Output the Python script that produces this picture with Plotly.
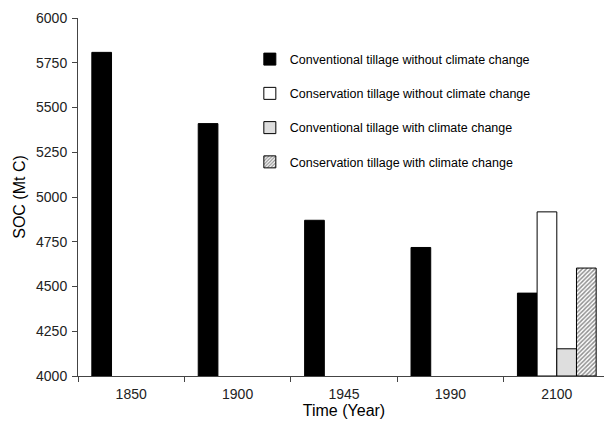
import plotly.graph_objects as go

years = ["1850", "1900", "1945", "1990", "2100"]
conv_no_cc = [5808, 5410, 4870, 4718, 4463]
cons_no_cc = [None, None, None, None, 4917]
conv_cc = [None, None, None, None, 4152]
cons_cc = [None, None, None, None, 4603]

names = [
    "Conventional tillage without climate change",
    "Conservation tillage without climate change",
    "Conventional tillage with climate change",
    "Conservation tillage with climate change",
]
series = [conv_no_cc, cons_no_cc, conv_cc, cons_cc]
fills = [
    dict(color="black"),
    dict(color="white"),
    dict(color="white", pattern=dict(shape=".", fgcolor="#666666", bgcolor="white", size=2, solidity=0.5)),
    dict(color="white", pattern=dict(shape="/", fgcolor="#222222", bgcolor="white", size=3, solidity=0.5)),
]

fig = go.Figure()
for i, (nm, vals, mk) in enumerate(zip(names, series, fills)):
    base = [4000 if v is not None else None for v in vals]
    yv = [v - 4000 if v is not None else None for v in vals]
    fig.add_trace(go.Bar(
        x=years, y=yv, base=base, name=nm, legendgroup=f"g{i}",
        marker=dict(**mk, line=dict(color="black", width=1)),
    ))

# page body has an 8px default margin, so the figure is sized to fit the 612x424 window
fig.update_layout(
    width=604, height=416,
    margin=dict(l=70, r=2, t=10, b=48),
    paper_bgcolor="white", plot_bgcolor="white",
    barmode="group", bargap=0.26, bargroupgap=0,
    font=dict(family="Liberation Sans, Arial, sans-serif", color="black", size=14),
    legend=dict(
        x=0.323, y=0.926, xanchor="left", yanchor="top",
        font=dict(size=12.5), tracegroupgap=15,
        bgcolor="rgba(0,0,0,0)", itemwidth=30,
    ),
    xaxis=dict(
        automargin=False,
        showline=True, linecolor="#444444", linewidth=1,
        ticks="outside", tickson="boundaries", ticklen=5, tickcolor="#444444",
        ticklabelstandoff=5,
        title=dict(text="Time (Year)", font=dict(size=16), standoff=2),
        tickfont=dict(size=14, color="#222222"),
    ),
    yaxis=dict(
        automargin=False,
        range=[4000, 6000], tickvals=[4000, 4250, 4500, 4750, 5000, 5250, 5500, 5750, 6000],
        showline=True, linecolor="#444444", linewidth=1, showgrid=False, zeroline=False,
        ticks="outside", ticklen=5, tickcolor="#444444",
        ticklabelstandoff=2,
        title=dict(text="SOC (Mt C)", font=dict(size=16), standoff=6),
        tickfont=dict(size=14, color="#222222"),
    ),
)

fig.write_html("out.html")
